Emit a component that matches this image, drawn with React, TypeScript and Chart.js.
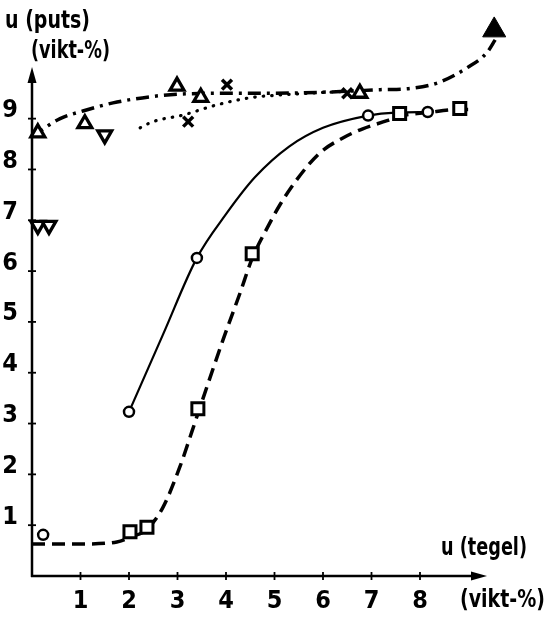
import React, { useEffect, useRef } from "react";
import { Chart, registerables } from "chart.js";

Chart.register(...registerables);

// ---- tick labels ----
const xTickValues = [1, 2, 3, 4, 5, 6, 7, 8];
const yTickValues = [1, 2, 3, 4, 5, 6, 7, 8, 9];

// ---- curves ----
const solidX = [2.0, 2.7, 3.4, 4.0, 4.6, 5.3, 6.0, 6.93, 7.5, 8.16];
const solidY = [3.23, 4.75, 6.26, 7.12, 7.85, 8.45, 8.82, 9.06, 9.12, 9.13];

const dashedX = [0, 1.0, 1.75, 2.02, 2.37, 2.7, 3.05, 3.3, 3.44, 3.94, 4.29, 4.54, 4.85, 5.11, 5.46, 5.94, 6.41, 6.82, 7.32, 7.58, 8.16, 8.82, 9.07];
const dashedY = [0.63, 0.63, 0.67, 0.76, 0.92, 1.35, 2.15, 2.85, 3.25, 4.65, 5.57, 6.25, 6.85, 7.3, 7.8, 8.33, 8.62, 8.8, 8.96, 9.05, 9.12, 9.18, 9.18];

const dashDotX = [0, 0.58, 1.05, 1.67, 2.43, 3.0, 4.0, 5.0, 6.0, 7.18, 7.86, 8.41, 8.97, 9.38, 9.55];
const dashDotY = [8.65, 9.0, 9.15, 9.31, 9.43, 9.48, 9.5, 9.5, 9.52, 9.57, 9.6, 9.72, 10.0, 10.3, 10.55];

const dottedX = [2.23, 2.49, 3.11, 3.81, 4.49, 5.18, 5.88, 6.35];
const dottedY = [8.82, 8.94, 9.07, 9.27, 9.41, 9.47, 9.51, 9.53];

// ---- markers ----
const circleX = [0.23, 2.0, 3.4, 6.93, 8.16];
const circleY = [0.81, 3.23, 6.26, 9.06, 9.13];
const squareX = [2.02, 2.37, 3.42, 4.54, 7.58, 8.82];
const squareY = [0.87, 0.96, 3.29, 6.34, 9.1, 9.2];
const upTriX = [0.12, 1.09, 2.99, 3.48, 6.76];
const upTriY = [8.72, 8.9, 9.64, 9.42, 9.5];
const downTriX = [0.12, 0.35, 1.5];
const downTriY = [6.9, 6.9, 8.68];
const crossX = [3.22, 4.02, 6.5];
const crossY = [8.94, 9.67, 9.5];
const filledTriX = [9.53];
const filledTriY = [10.74];

const FONT = "'DejaVu Sans Condensed', 'Liberation Sans Narrow', 'DejaVu Sans', sans-serif";

const pts = (xs: number[], ys: number[]) => xs.map((x, i) => ({ x, y: ys[i] }));

const axisPlugin = {
  id: "axisDeco",
  afterDraw(chart: any) {
    const ctx = chart.ctx;
    const xs = chart.scales.x;
    const ys = chart.scales.y;
    const x0 = xs.getPixelForValue(0);
    const y0 = ys.getPixelForValue(0);
    ctx.save();
    ctx.strokeStyle = "#000";
    ctx.fillStyle = "#000";
    ctx.lineWidth = 2.5;
    // y axis
    ctx.beginPath();
    ctx.moveTo(x0, y0 + 1);
    ctx.lineTo(x0, 80);
    ctx.stroke();
    ctx.beginPath();
    ctx.moveTo(x0, 67);
    ctx.lineTo(x0 - 4.5, 83);
    ctx.lineTo(x0 + 4.5, 83);
    ctx.closePath();
    ctx.fill();
    // x axis
    ctx.beginPath();
    ctx.moveTo(x0 - 1, y0);
    ctx.lineTo(474, y0);
    ctx.stroke();
    ctx.beginPath();
    ctx.moveTo(487, y0);
    ctx.lineTo(471, y0 - 4.5);
    ctx.lineTo(471, y0 + 4.5);
    ctx.closePath();
    ctx.fill();
    // tick marks
    ctx.lineWidth = 1.8;
    xTickValues.forEach((v) => {
      const px = xs.getPixelForValue(v);
      ctx.beginPath();
      ctx.moveTo(px, y0 - 4);
      ctx.lineTo(px, y0 + 4);
      ctx.stroke();
    });
    yTickValues.forEach((v) => {
      const py = ys.getPixelForValue(v);
      ctx.beginPath();
      ctx.moveTo(x0 - 4, py);
      ctx.lineTo(x0 + 4, py);
      ctx.stroke();
    });
    // titles
    ctx.font = `bold 25px ${FONT}`;
    ctx.textBaseline = "middle";
    ctx.textAlign = "left";
    ctx.fillText("u (puts)", 5, 21, 85);
    ctx.fillText("(vikt-%)", 31, 51, 79);
    ctx.fillText("u (tegel)", 441, 548, 86);
    ctx.fillText("(vikt-%)", 460, 600, 85);
    ctx.restore();
  },
};

export default function App() {
  const ref = useRef<HTMLCanvasElement | null>(null);
  useEffect(() => {
    document.body.style.margin = "0";
    const canvas = ref.current!;
    const lineDs = (xs: number[], ys: number[], width: number, dash: number[], cap: string = "butt") => ({
      type: "line" as const,
      data: pts(xs, ys),
      borderColor: "#000",
      borderWidth: width,
      borderDash: dash,
      borderCapStyle: cap,
      pointRadius: 0,
      fill: false,
      cubicInterpolationMode: "monotone" as const,
      clip: false as any,
      order: 2,
    });
    const markDs = (xs: number[], ys: number[], style: string, r: number, bw: number, bg = "#fff", rot = 0) => ({
      type: "scatter" as const,
      data: pts(xs, ys),
      showLine: false,
      pointStyle: style,
      pointRadius: r,
      pointRotation: rot,
      pointBorderWidth: bw,
      pointBorderColor: "#000",
      pointBackgroundColor: bg,
      borderColor: "#000",
      backgroundColor: bg,
      clip: false as any,
      order: 0,
    });
    const chart = new Chart(canvas, {
      type: "scatter",
      data: {
        datasets: [
          lineDs(solidX, solidY, 2.2, []),
          lineDs(dashedX, dashedY, 3.5, [13, 7]),
          lineDs(dashDotX, dashDotY, 3.5, [13, 6, 3, 6]),
          lineDs(dottedX, dottedY, 3.2, [0.5, 8], "round"),
          markDs(circleX, circleY, "circle", 5, 2.5),
          markDs(squareX, squareY, "rect", 8.5, 3),
          markDs(upTriX, upTriY, "triangle", 8, 3.3),
          markDs(downTriX, downTriY, "triangle", 8, 3.3, "#fff", 180),
          markDs(crossX, crossY, "crossRot", 7, 3.5),
          markDs(filledTriX, filledTriY, "triangle", 13.3, 1, "#000"),
        ] as any,
      },
      options: {
        responsive: false,
        animation: false,
        devicePixelRatio: 1,
        layout: { padding: { left: 0, right: 30, top: 17, bottom: 0 } },
        plugins: { legend: { display: false }, tooltip: { enabled: false } },
        scales: {
          x: {
            type: "linear",
            min: 0,
            max: 10,
            grid: { display: false, drawTicks: false },
            border: { display: false },
            afterFit: (s: any) => { s.height = 41; s.paddingLeft = 0; s.paddingRight = 0; },
            afterBuildTicks: (s: any) => { s.ticks = xTickValues.map((v) => ({ value: v })); },
            ticks: {
              padding: 10,
              color: "#000",
              font: { family: FONT, size: 25, weight: "bold" },
              callback: (v: any) => String(v),
            },
          },
          y: {
            type: "linear",
            min: 0,
            max: 11,
            grid: { display: false, drawTicks: false },
            border: { display: false },
            afterFit: (s: any) => { s.width = 32; s.paddingTop = 0; s.paddingBottom = 0; },
            afterBuildTicks: (s: any) => { s.ticks = yTickValues.map((v) => ({ value: v })); },
            ticks: {
              padding: 14,
              labelOffset: -8,
              color: "#000",
              font: { family: FONT, size: 25, weight: "bold" },
              callback: (v: any) => String(v),
            },
          },
        },
      } as any,
      plugins: [axisPlugin],
    });
    return () => chart.destroy();
  }, []);
  return <canvas ref={ref} width={547} height={617} style={{ display: "block", width: 547, height: 617 }} />;
}
